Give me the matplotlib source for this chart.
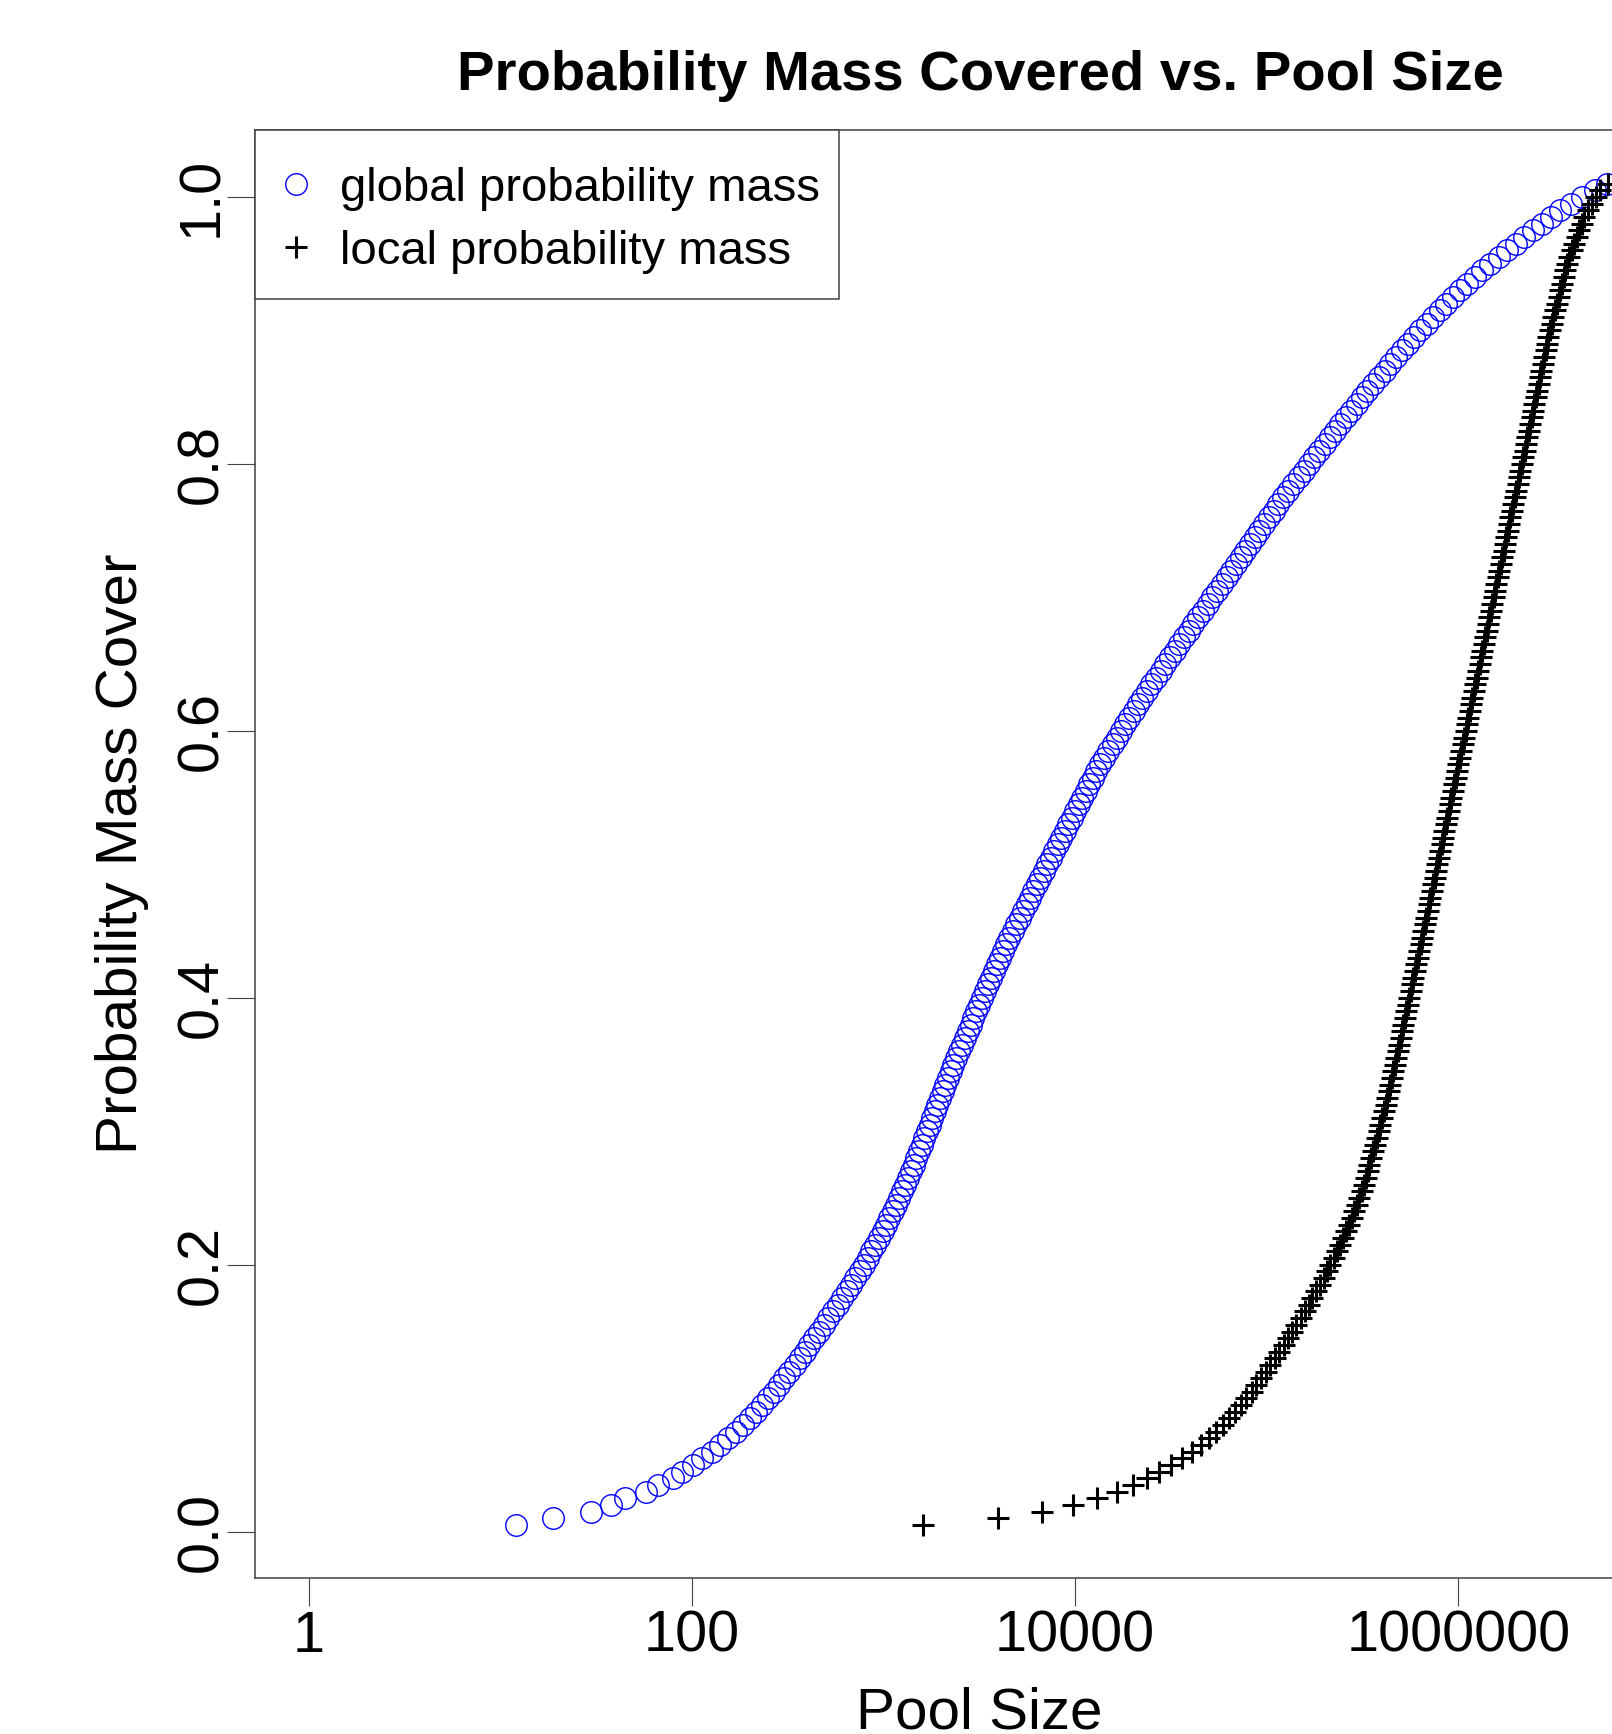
import numpy as np
import matplotlib
matplotlib.use("Agg")
import matplotlib.pyplot as plt
from matplotlib.patches import Rectangle

plt.rcParams['font.family'] = ['Liberation Sans', 'DejaVu Sans']

# probability mass levels (y), one point every 0.5 %
mass = [
    0.005, 0.010, 0.015, 0.020, 0.025, 0.030, 0.035, 0.040, 0.045, 0.050,
    0.055, 0.060, 0.065, 0.070, 0.075, 0.080, 0.085, 0.090, 0.095, 0.100,
    0.105, 0.110, 0.115, 0.120, 0.125, 0.130, 0.135, 0.140, 0.145, 0.150,
    0.155, 0.160, 0.165, 0.170, 0.175, 0.180, 0.185, 0.190, 0.195, 0.200,
    0.205, 0.210, 0.215, 0.220, 0.225, 0.230, 0.235, 0.240, 0.245, 0.250,
    0.255, 0.260, 0.265, 0.270, 0.275, 0.280, 0.285, 0.290, 0.295, 0.300,
    0.305, 0.310, 0.315, 0.320, 0.325, 0.330, 0.335, 0.340, 0.345, 0.350,
    0.355, 0.360, 0.365, 0.370, 0.375, 0.380, 0.385, 0.390, 0.395, 0.400,
    0.405, 0.410, 0.415, 0.420, 0.425, 0.430, 0.435, 0.440, 0.445, 0.450,
    0.455, 0.460, 0.465, 0.470, 0.475, 0.480, 0.485, 0.490, 0.495, 0.500,
    0.505, 0.510, 0.515, 0.520, 0.525, 0.530, 0.535, 0.540, 0.545, 0.550,
    0.555, 0.560, 0.565, 0.570, 0.575, 0.580, 0.585, 0.590, 0.595, 0.600,
    0.605, 0.610, 0.615, 0.620, 0.625, 0.630, 0.635, 0.640, 0.645, 0.650,
    0.655, 0.660, 0.665, 0.670, 0.675, 0.680, 0.685, 0.690, 0.695, 0.700,
    0.705, 0.710, 0.715, 0.720, 0.725, 0.730, 0.735, 0.740, 0.745, 0.750,
    0.755, 0.760, 0.765, 0.770, 0.775, 0.780, 0.785, 0.790, 0.795, 0.800,
    0.805, 0.810, 0.815, 0.820, 0.825, 0.830, 0.835, 0.840, 0.845, 0.850,
    0.855, 0.860, 0.865, 0.870, 0.875, 0.880, 0.885, 0.890, 0.895, 0.900,
    0.905, 0.910, 0.915, 0.920, 0.925, 0.930, 0.935, 0.940, 0.945, 0.950,
    0.955, 0.960, 0.965, 0.970, 0.975, 0.980, 0.985, 0.990, 0.995, 1.000,
    1.005, 1.010,
]

# log10(pool size) needed to reach each mass level
global_log_pool = [
    1.081, 1.277, 1.474, 1.578, 1.651, 1.759, 1.821, 1.903, 1.947, 2.007,
    2.055, 2.103, 2.146, 2.188, 2.228, 2.266, 2.302, 2.336, 2.368, 2.398,
    2.427, 2.455, 2.482, 2.509, 2.536, 2.562, 2.588, 2.613, 2.638, 2.663,
    2.688, 2.712, 2.736, 2.760, 2.784, 2.808, 2.831, 2.853, 2.875, 2.896,
    2.917, 2.937, 2.957, 2.976, 2.995, 3.013, 3.031, 3.048, 3.065, 3.081,
    3.097, 3.112, 3.127, 3.142, 3.157, 3.171, 3.185, 3.199, 3.213, 3.227,
    3.241, 3.254, 3.268, 3.281, 3.295, 3.309, 3.322, 3.336, 3.350, 3.364,
    3.379, 3.394, 3.409, 3.424, 3.439, 3.454, 3.469, 3.484, 3.499, 3.514,
    3.529, 3.544, 3.559, 3.574, 3.590, 3.606, 3.622, 3.639, 3.656, 3.674,
    3.692, 3.710, 3.728, 3.746, 3.764, 3.782, 3.800, 3.818, 3.836, 3.855,
    3.874, 3.892, 3.910, 3.928, 3.946, 3.964, 3.982, 4.000, 4.019, 4.037,
    4.055, 4.073, 4.091, 4.110, 4.131, 4.152, 4.173, 4.195, 4.217, 4.239,
    4.261, 4.283, 4.305, 4.327, 4.349, 4.373, 4.397, 4.421, 4.446, 4.470,
    4.494, 4.519, 4.543, 4.568, 4.592, 4.617, 4.641, 4.666, 4.691, 4.716,
    4.740, 4.765, 4.790, 4.814, 4.839, 4.863, 4.888, 4.912, 4.936, 4.961,
    4.985, 5.010, 5.035, 5.060, 5.086, 5.112, 5.139, 5.166, 5.193, 5.220,
    5.247, 5.274, 5.301, 5.328, 5.356, 5.384, 5.412, 5.440, 5.468, 5.496,
    5.524, 5.554, 5.584, 5.614, 5.645, 5.676, 5.707, 5.738, 5.769, 5.801,
    5.834, 5.868, 5.902, 5.937, 5.972, 6.008, 6.045, 6.084, 6.124, 6.166,
    6.209, 6.253, 6.298, 6.343, 6.389, 6.435, 6.481, 6.530, 6.585, 6.645,
    6.710, 6.775,
]

local_log_pool = [
    3.207, 3.596, 3.825, 3.987, 4.112, 4.216, 4.300, 4.373, 4.439, 4.500,
    4.556, 4.608, 4.655, 4.700, 4.737, 4.772, 4.805, 4.836, 4.865, 4.893,
    4.920, 4.946, 4.971, 4.995, 5.018, 5.041, 5.064, 5.087, 5.110, 5.132,
    5.154, 5.176, 5.197, 5.218, 5.238, 5.258, 5.277, 5.296, 5.314, 5.332,
    5.349, 5.366, 5.382, 5.398, 5.413, 5.428, 5.442, 5.456, 5.469, 5.482,
    5.495, 5.506, 5.516, 5.526, 5.535, 5.545, 5.555, 5.565, 5.575, 5.584,
    5.593, 5.602, 5.611, 5.620, 5.628, 5.636, 5.644, 5.652, 5.660, 5.668,
    5.676, 5.683, 5.691, 5.698, 5.706, 5.713, 5.721, 5.728, 5.736, 5.743,
    5.751, 5.758, 5.765, 5.773, 5.780, 5.787, 5.795, 5.802, 5.809, 5.817,
    5.824, 5.831, 5.839, 5.846, 5.853, 5.861, 5.868, 5.875, 5.883, 5.890,
    5.897, 5.905, 5.912, 5.919, 5.927, 5.934, 5.941, 5.949, 5.956, 5.963,
    5.971, 5.978, 5.985, 5.993, 6.000, 6.007, 6.015, 6.022, 6.029, 6.037,
    6.044, 6.051, 6.059, 6.066, 6.073, 6.081, 6.088, 6.095, 6.103, 6.110,
    6.117, 6.125, 6.132, 6.139, 6.147, 6.154, 6.161, 6.169, 6.176, 6.183,
    6.191, 6.198, 6.205, 6.213, 6.220, 6.227, 6.235, 6.242, 6.249, 6.257,
    6.264, 6.271, 6.279, 6.286, 6.293, 6.301, 6.308, 6.315, 6.323, 6.330,
    6.337, 6.345, 6.352, 6.359, 6.367, 6.374, 6.381, 6.389, 6.396, 6.403,
    6.411, 6.418, 6.425, 6.433, 6.440, 6.447, 6.455, 6.462, 6.469, 6.477,
    6.486, 6.495, 6.504, 6.513, 6.522, 6.531, 6.540, 6.549, 6.558, 6.567,
    6.579, 6.591, 6.603, 6.616, 6.629, 6.642, 6.656, 6.675, 6.697, 6.718,
    6.740, 6.780,
]

x_ticks = [1, 100, 10000, 1000000]
x_tick_labels = ['1', '100', '10000', '1000000']
y_ticks = [0.0, 0.2, 0.4, 0.6, 0.8, 1.0]
y_tick_labels = ['0.0', '0.2', '0.4', '0.6', '0.8', '1.0']

W, H = 1612, 1734
AX_W, AX_H = 1448.5, 1448.3
fig = plt.figure(figsize=(W / 100, H / 100), dpi=100)
# plot region runs past the right edge of the picture (cropped original)
ax = fig.add_axes([255.3 / W, 1 - 1578.3 / H, AX_W / W, AX_H / H])

ax.set_xscale('log')
ax.plot(10 ** np.array(global_log_pool), mass, linestyle='none', marker='o',
        markersize=15.5, markerfacecolor='none', markeredgecolor='#0000ff',
        markeredgewidth=1.0, label='global probability mass')
ax.plot(10 ** np.array(local_log_pool), mass, linestyle='none', marker='+',
        markersize=16.5, color='black', markeredgewidth=2.2,
        label='local probability mass')

ax.set_xlim(10 ** -0.278, 10 ** 7.28)
ax.set_ylim(-0.0349, 1.0502)

ax.set_xticks(x_ticks)
ax.set_xticklabels(x_tick_labels)
ax.minorticks_off()
ax.set_yticks(y_ticks)
ax.set_yticklabels(y_tick_labels, rotation=90, va='center')

ax.tick_params(axis='both', direction='out', length=20.5, width=0.8,
               color='#444444', labelsize=41.5)
ax.tick_params(axis='x', pad=2)
ax.tick_params(axis='y', pad=-1.5)
for s in ax.spines.values():
    s.set_color('#404040')
    s.set_linewidth(1.1)

ax.set_xlabel('Pool Size', fontsize=42, va='baseline')
ax.xaxis.set_label_coords(0.5, (1578.3 - 1728.3) / AX_H)
ax.set_ylabel('Probability Mass Cover', fontsize=42, va='center')
ax.yaxis.set_label_coords((121.6 - 255.3) / AX_W, 0.5)

fig.text(980 / W, 1 - 90 / H, 'Probability Mass Covered vs. Pool Size',
         ha='center', va='baseline', fontsize=40.5, fontweight='bold')

# legend box drawn by hand so the entries can sit where R puts them
box_w = (839.4 - 255.3) / AX_W
box_h = (298.5 - 130) / AX_H
ax.add_patch(Rectangle((0, 1 - box_h), box_w, box_h, transform=ax.transAxes,
                       facecolor='white', edgecolor='#404040', linewidth=1.1,
                       zorder=5, clip_on=False))
leg = ax.legend(loc='upper left', bbox_to_anchor=((272.3 - 255.3) / AX_W,
                                                  (1578.3 - 167) / AX_H),
                borderaxespad=0, borderpad=0, fontsize=34, frameon=False,
                handlelength=1.0, handletextpad=0.432, labelspacing=0.4,
                numpoints=1)
leg.set_zorder(6)

fig.savefig('out.png', dpi=100)
